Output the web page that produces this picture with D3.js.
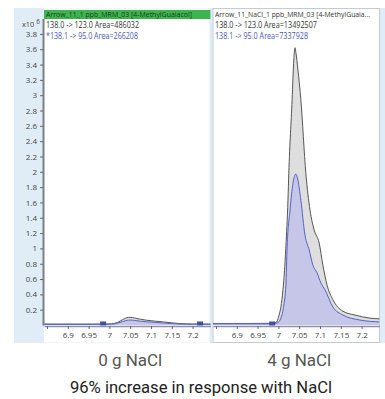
<!DOCTYPE html>
<html>
<head>
<meta charset="utf-8">
<script src="https://cdn.jsdelivr.net/npm/d3@7"></script>
<style>
  body { margin: 0; background: #fff; }
  svg { display: block; }
</style>
</head>
<body>
<svg id="chart" width="385" height="399"></svg>
<script>
// retention time ticks (min) and response ticks (x10^6 counts)
const rtTicks = [6.85, 6.9, 6.95, 7, 7.05, 7.1, 7.15, 7.2];
const respTicks = [0.2, 0.4, 0.6, 0.8, 1, 1.2, 1.4, 1.6, 1.8, 2, 2.2, 2.4, 2.6, 2.8, 3, 3.2, 3.4, 3.6, 3.8];

// 0 g NaCl sample
const rt0 = [6.843, 6.99, 7.005, 7.02, 7.032, 7.042, 7.05, 7.06, 7.075, 7.09, 7.11, 7.13, 7.15, 7.17, 7.2, 7.245];
const quant0 = [0.012, 0.012, 0.015, 0.035, 0.07, 0.095, 0.10, 0.092, 0.075, 0.062, 0.05, 0.04, 0.028, 0.018, 0.013, 0.012];
const qual0 = [0.008, 0.008, 0.01, 0.025, 0.045, 0.06, 0.065, 0.06, 0.05, 0.042, 0.034, 0.026, 0.018, 0.012, 0.009, 0.008];
const integ0 = [6.985, 7.218];

// 4 g NaCl sample
const rt4Quant = [6.843, 6.932, 6.98, 6.994, 6.997, 7.001, 7.006, 7.011, 7.016, 7.018, 7.023, 7.025, 7.033, 7.037, 7.04, 7.042, 7.047, 7.054, 7.066, 7.076, 7.086, 7.098, 7.107, 7.117, 7.131, 7.155, 7.184, 7.22, 7.245];
const quant4 = [0.02, 0.02, 0.022, 0.033, 0.05, 0.12, 0.235, 0.46, 0.82, 1.02, 1.63, 1.98, 2.94, 3.46, 3.62, 3.56, 3.33, 2.94, 1.98, 1.5, 1.24, 1.07, 0.78, 0.52, 0.33, 0.18, 0.13, 0.09, 0.08];
const rt4Qual = [6.843, 6.98, 6.997, 7.006, 7.013, 7.018, 7.021, 7.028, 7.035, 7.042, 7.047, 7.054, 7.064, 7.074, 7.083, 7.093, 7.102, 7.112, 7.131, 7.155, 7.196, 7.245];
const qual4 = [0.015, 0.015, 0.026, 0.09, 0.26, 0.52, 1.02, 1.5, 1.85, 1.97, 1.89, 1.63, 1.17, 0.98, 0.78, 0.68, 0.55, 0.46, 0.235, 0.13, 0.065, 0.04];
const integ4 = [6.985];

const headers = [
  ['Arrow_11_1 ppb_MRM_03 [4-MethylGuaiacol]', '138.0 -> 123.0 Area=486032', '*138.1 -> 95.0 Area=266208'],
  ['Arrow_11_NaCl_1 ppb_MRM_03  [4-MethylGuaia...', '138.0 -> 123.0 Area=13492507', '138.1 -> 95.0 Area=7337928']
];
const headerWidths = [[146, 93, 92], [155, 102, 93]];
const captions = ['0 g NaCl', '4 g NaCl'];
const summary = '96% increase in response with NaCl';

const svg = d3.select('#chart');
const smallFont = '"Open Sans", sans-serif';

// light blue frame behind the panels
svg.append('rect')
  .attr('x', 14).attr('y', 8).attr('width', 371).attr('height', 335)
  .attr('fill', '#e0edf6');

const plotTop = 18.6, plotBottom = 325;
const y = d3.scaleLinear().domain([0, 4]).range([plotBottom, plotTop]);

const panels = [
  {x0: 44, rt: [rt0, rt0], quant: quant0, qual: qual0, integ: integ0, green: true},
  {x0: 213, rt: [rt4Quant, rt4Qual], quant: quant4, qual: qual4, integ: integ4, green: false}
];

panels.forEach((p, i) => {
  const w = 166.4;
  const x = d3.scaleLinear().domain([6.8428, 6.8428 + w / 416]).range([p.x0, p.x0 + w]);
  const g = svg.append('g');

  // panel background
  g.append('rect')
    .attr('x', p.x0).attr('y', 8.5).attr('width', w - (p.green ? 1 : 0)).attr('height', 334)
    .attr('fill', '#fff')
    .attr('stroke', p.green ? 'none' : '#c4cbd2');

  // header
  if (p.green) {
    g.append('rect')
      .attr('x', p.x0).attr('y', 10).attr('width', w).attr('height', 9)
      .attr('fill', '#3db54e');
  }
  const lineY = [17.3, 28, 38.5];
  const lineFill = [p.green ? '#1d3a1d' : '#333', '#333', '#4a58b0'];
  headers[i].forEach((t, k) => {
    g.append('text')
      .attr('x', p.x0 + 2).attr('y', lineY[k])
      .attr('font-family', smallFont).attr('font-size', k === 0 ? 7.8 : 8.2)
      .attr('textLength', headerWidths[i][k]).attr('lengthAdjust', 'spacingAndGlyphs')
      .attr('fill', lineFill[k])
      .text(t);
  });

  const clipId = 'clip' + i;
  svg.append('clipPath').attr('id', clipId)
    .append('rect')
    .attr('x', p.x0).attr('y', plotTop).attr('width', w).attr('height', plotBottom - plotTop + 1);

  const plot = g.append('g').attr('clip-path', 'url(#' + clipId + ')');

  const areaOf = rt => d3.area()
    .x((d, k) => x(rt[k]))
    .y0(y(0))
    .y1(d => y(d))
    .curve(d3.curveMonotoneX);
  const lineOf = rt => d3.line()
    .x((d, k) => x(rt[k]))
    .y(d => y(d))
    .curve(d3.curveMonotoneX);

  plot.append('path')
    .attr('d', areaOf(p.rt[0])(p.quant))
    .attr('fill', '#dedede');
  plot.append('path')
    .attr('d', lineOf(p.rt[0])(p.quant))
    .attr('fill', 'none').attr('stroke', '#555').attr('stroke-width', 1);
  plot.append('path')
    .attr('d', areaOf(p.rt[1])(p.qual))
    .attr('fill', '#c6c6e8');
  plot.append('path')
    .attr('d', lineOf(p.rt[1])(p.qual))
    .attr('fill', 'none').attr('stroke', '#5663c4').attr('stroke-width', 1);

  // integration markers
  plot.selectAll('rect.mark')
    .data(p.integ)
    .enter().append('rect')
    .attr('class', 'mark')
    .attr('x', d => x(d) - 3).attr('y', plotBottom - 3.5)
    .attr('width', 6).attr('height', 4)
    .attr('fill', '#4050a8');

  // x axis
  const xAxis = g.append('g')
    .attr('transform', 'translate(0,' + (plotBottom + 1) + ')')
    .call(d3.axisBottom(x).tickValues(rtTicks).tickSize(3).tickSizeOuter(0)
      .tickFormat(d => d === 6.85 ? '' : d3.format('')(d)));
  xAxis.select('.domain').attr('stroke', '#8c90a8').attr('stroke-width', 1.5);
  xAxis.selectAll('.tick line').attr('stroke', '#666');
  xAxis.selectAll('.tick text')
    .attr('font-family', smallFont).attr('font-size', 8).attr('fill', '#444');

  // caption under the panel
  svg.append('text')
    .attr('x', x(7.05)).attr('y', 366)
    .attr('text-anchor', 'middle')
    .attr('font-family', 'Roboto, sans-serif').attr('font-size', 17)
    .attr('fill', '#555')
    .text(captions[i]);
});

// y axis (shared scale, drawn on the first panel)
const yAxis = svg.append('g')
  .attr('transform', 'translate(43,0)')
  .call(d3.axisLeft(y).tickValues(respTicks).tickSize(3).tickSizeOuter(0).tickFormat(d3.format('')));
yAxis.select('.domain').attr('stroke', '#7a7f88').attr('stroke-width', 2);
yAxis.selectAll('.tick line').attr('stroke', '#666');
yAxis.selectAll('.tick text')
  .attr('font-family', smallFont).attr('font-size', 8).attr('fill', '#444');

const unit = svg.append('text')
  .attr('x', 22).attr('y', 26.5)
  .attr('font-family', smallFont).attr('font-size', 7.3).attr('fill', '#444');
unit.append('tspan').text('x10');
unit.append('tspan').attr('dx', 2).attr('dy', -2.5).attr('font-size', 6.3).text('6');

svg.append('text')
  .attr('x', 201).attr('y', 393)
  .attr('text-anchor', 'middle')
  .attr('font-family', 'Roboto, sans-serif').attr('font-size', 16.6)
  .attr('fill', '#222')
  .text(summary);
</script>
</body>
</html>
